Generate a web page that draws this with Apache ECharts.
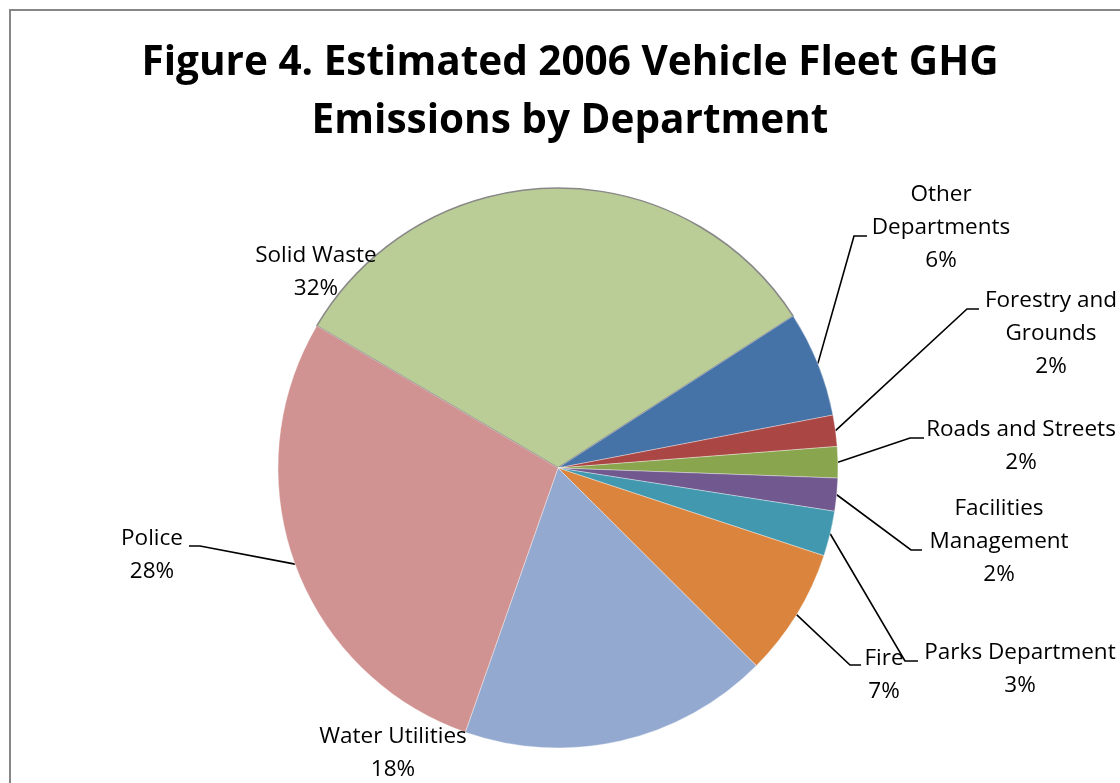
<!DOCTYPE html>
<html>
<head>
<meta charset="utf-8">
<title>Vehicle Fleet GHG Emissions by Department</title>
<script src="https://cdn.jsdelivr.net/npm/echarts@6/dist/echarts.min.js"></script>
<style>
  html, body { margin: 0; padding: 0; background: #ffffff; }
  #chart { width: 1120px; height: 783px; }
</style>
</head>
<body>
<div id="chart"></div>
<script>
// Departments, in clockwise order from the upper-left edge of Solid Waste
const categories = ['Solid Waste', 'Other Departments', 'Forestry and Grounds', 'Roads and Streets',
  'Facilities Management', 'Parks Department', 'Fire', 'Water Utilities', 'Police'];
// Share of estimated 2006 fleet GHG emissions (percent)
const shares = [32.4, 6.1, 1.8, 1.8, 1.9, 2.6, 7.4, 17.9, 28.1];
// Label text with the line breaks used on the chart
const labelNames = ['Solid Waste', 'Other\nDepartments', 'Forestry and\nGrounds', 'Roads and Streets',
  'Facilities\nManagement', 'Parks Department', 'Fire', 'Water Utilities', 'Police'];
const sliceColors = ['#BACD96', '#4572A7', '#AA4643', '#89A54E', '#71588F', '#4198AF', '#DB843D', '#93A9CF', '#D19392'];

// Where each data label sits, and the elbow/end of its leader line (null = no leader)
const labelSpots = [
  { c: [316, 272], line: null },
  { c: [941, 228], line: [[854, 236], [867, 236]] },
  { c: [1051, 334], line: [[967, 309], [979, 309]] },
  { c: [1021, 446], line: [[910, 438], [924, 438]] },
  { c: [999, 542], line: [[911, 550], [922, 550]] },
  { c: [1020, 669], line: [[905, 661], [918, 661]] },
  { c: [884, 675], line: [[850, 665], [861, 665]] },
  { c: [393, 753], line: null },
  { c: [152, 555], line: [[200, 546], [189, 546]] }
];

const chart = echarts.init(document.getElementById('chart'), null, { renderer: 'canvas' });

const pieData = categories.map((name, i) => ({
  name: name,
  value: shares[i],
  itemStyle: i === 0
    ? { color: sliceColors[i], borderColor: '#888888', borderWidth: 1.5 }
    : { color: sliceColors[i], borderColor: 'rgba(255,255,255,0.6)', borderWidth: 0.6 },
  labelLine: { show: labelSpots[i].line !== null }
}));

chart.setOption({
  animation: false,
  backgroundColor: '#ffffff',
  title: {
    text: 'Figure 4. Estimated 2006 Vehicle Fleet GHG\nEmissions by Department',
    left: 570,
    top: 34,
    padding: 0,
    textAlign: 'center',
    textStyle: {
      fontFamily: 'Open Sans',
      fontWeight: 'bold',
      fontSize: 40.5,
      lineHeight: 58,
      color: '#000000'
    }
  },
  graphic: [{
    type: 'rect',
    shape: { x: 10, y: 10, width: 1200, height: 900 },
    style: { fill: 'none', stroke: '#878787', lineWidth: 2 },
    silent: true,
    z: 0
  }],
  series: [{
    type: 'pie',
    center: [558, 468],
    radius: 280,
    startAngle: 149.5,
    clockwise: true,
    avoidLabelOverlap: false,
    percentPrecision: 0,
    data: pieData,
    label: {
      show: true,
      position: 'outside',
      formatter: p => labelNames[p.dataIndex] + '\n' + p.percent + '%',
      fontFamily: 'Open Sans',
      fontSize: 22.5,
      lineHeight: 33,
      color: '#000000',
      align: 'center'
    },
    labelLine: {
      show: true,
      lineStyle: { color: '#000000', width: 1.6 }
    },
    emphasis: { disabled: true },
    labelLayout: function (params) {
      const spot = labelSpots[params.dataIndex];
      const out = {
        x: spot.c[0],
        y: spot.c[1],
        align: 'center',
        verticalAlign: 'middle'
      };
      if (spot.line && params.labelLinePoints) {
        out.labelLinePoints = [params.labelLinePoints[0], spot.line[0], spot.line[1]];
      }
      return out;
    }
  }]
});
</script>
</body>
</html>
